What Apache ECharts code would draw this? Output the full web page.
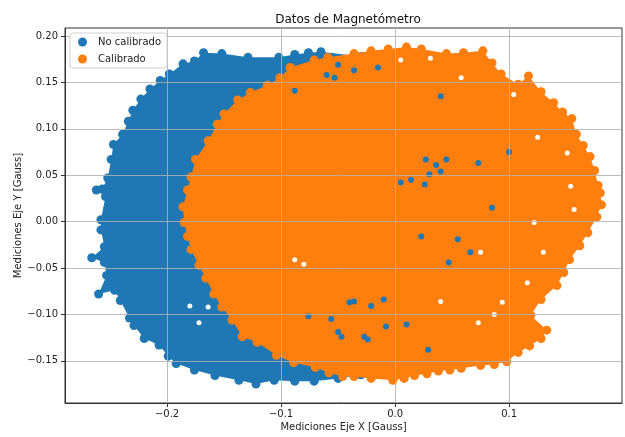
<!DOCTYPE html>
<html>
<head>
<meta charset="utf-8">
<script src="https://cdn.jsdelivr.net/npm/echarts@6/dist/echarts.min.js"></script>
<style>
  html, body { margin: 0; padding: 0; background: #fff; }
  #main { width: 625px; height: 437px; }
</style>
</head>
<body>
<div id="main"></div>
<script>
// outline of the "No calibrado" cloud (points on its edge, incl. outliers)
var blueEdge = [
    [-0.168, 0.182], [-0.152, 0.181], [-0.129, 0.177], [-0.102, 0.177], [-0.088, 0.180],
    [-0.076, 0.182], [-0.065, 0.183], [-0.030, 0.178], [0.005, 0.170], [0.031, 0.158],
    [0.049, 0.120], [0.053, 0.056], [0.049, -0.019], [0.031, -0.084], [0.005, -0.138],
    [-0.030, -0.165], [-0.050, -0.169], [-0.071, -0.172], [-0.088, -0.172], [-0.106, -0.171],
    [-0.122, -0.175], [-0.137, -0.171], [-0.158, -0.166], [-0.176, -0.160], [-0.192, -0.153],
    [-0.199, -0.145], [-0.207, -0.133], [-0.220, -0.126], [-0.229, -0.112], [-0.233, -0.104],
    [-0.241, -0.085], [-0.246, -0.074], [-0.260, -0.078], [-0.253, -0.058], [-0.255, -0.044],
    [-0.266, -0.039], [-0.255, -0.027], [-0.258, -0.009], [-0.258, 0.002], [-0.254, 0.027],
    [-0.262, 0.034], [-0.257, 0.035], [-0.252, 0.047], [-0.249, 0.067], [-0.247, 0.083],
    [-0.239, 0.094], [-0.234, 0.108], [-0.230, 0.120], [-0.223, 0.132], [-0.215, 0.143],
    [-0.206, 0.152], [-0.198, 0.159], [-0.186, 0.170], [-0.176, 0.173]
];

// outline of the "Calibrado" cloud
var orangeEdge = [
    [-0.186, 0.016], [-0.185, -0.001], [-0.182, -0.016], [-0.179, -0.030], [-0.172, -0.047],
    [-0.166, -0.061], [-0.159, -0.078], [-0.152, -0.092], [-0.143, -0.106], [-0.134, -0.124],
    [-0.121, -0.130], [-0.104, -0.144], [-0.089, -0.152], [-0.070, -0.157], [-0.058, -0.163],
    [-0.046, -0.167], [-0.036, -0.167], [-0.021, -0.169], [-0.002, -0.171], [0.008, -0.169],
    [0.017, -0.166], [0.028, -0.164], [0.038, -0.161], [0.048, -0.160], [0.058, -0.158],
    [0.075, -0.155], [0.087, -0.154], [0.098, -0.151], [0.108, -0.141], [0.118, -0.134],
    [0.128, -0.126], [0.133, -0.117], [0.119, -0.101], [0.128, -0.084], [0.142, -0.069],
    [0.148, -0.055], [0.153, -0.041], [0.162, -0.026], [0.169, -0.012], [0.177, 0.005],
    [0.181, 0.018], [0.180, 0.031], [0.178, 0.039], [0.175, 0.055], [0.171, 0.070],
    [0.165, 0.082], [0.159, 0.094], [0.155, 0.111], [0.147, 0.118], [0.139, 0.128],
    [0.128, 0.140], [0.117, 0.157], [0.108, 0.148], [0.093, 0.159], [0.085, 0.171],
    [0.077, 0.184], [0.060, 0.182], [0.045, 0.181], [0.023, 0.186], [0.010, 0.188],
    [-0.006, 0.186], [-0.021, 0.184], [-0.036, 0.181], [-0.059, 0.177], [-0.071, 0.174],
    [-0.092, 0.166], [-0.101, 0.155], [-0.112, 0.147], [-0.127, 0.139], [-0.138, 0.131],
    [-0.150, 0.116], [-0.156, 0.105], [-0.164, 0.087], [-0.175, 0.067], [-0.179, 0.048],
    [-0.182, 0.034]
];

// uncalibrated points that show through gaps in the calibrated cloud
var blueSpots = [
    [0.027, 0.067], [0.036, 0.061], [0.030, 0.051], [0.040, 0.054], [0.026, 0.040],
    [0.045, 0.067], [0.014, 0.045], [0.005, 0.042], [0.085, 0.015], [0.066, -0.033],
    [0.047, -0.044], [0.023, -0.016], [0.055, -0.019], [0.073, 0.063], [0.100, 0.075],
    [-0.036, -0.086], [-0.010, -0.084], [-0.056, -0.105], [-0.047, -0.124], [-0.024, -0.127],
    [-0.008, -0.113], [0.029, -0.138], [0.010, -0.111], [-0.076, -0.102], [-0.050, -0.119],
    [-0.027, -0.124], [-0.040, -0.087], [-0.021, -0.091], [-0.050, 0.169], [-0.036, 0.163],
    [-0.015, 0.166], [-0.060, 0.158], [0.040, 0.135], [-0.088, 0.141], [-0.053, 0.155]
];

// empty gaps inside the clouds
var gaps = [
    [0.125, 0.091], [0.154, 0.038], [0.157, 0.013], [0.122, -0.001], [0.075, -0.033],
    [0.116, -0.066], [0.151, 0.074], [0.130, -0.033], [0.005, 0.174], [0.031, 0.176],
    [0.058, 0.155], [0.104, 0.137], [0.040, -0.086], [0.073, -0.109], [0.087, -0.100],
    [0.094, -0.087], [-0.180, -0.091], [-0.172, -0.109], [-0.164, -0.092], [-0.088, -0.041],
    [-0.080, -0.046]
];

var xTicks = [-0.2, -0.1, 0.0, 0.1, 0.2];
var xTickLabels = ['\u22120.2', '\u22120.1', '0.0', '0.1', '0.2'];
var yTicks = [-0.15, -0.10, -0.05, 0.00, 0.05, 0.10, 0.15, 0.20];
var yTickLabels = ['\u22120.15', '\u22120.10', '\u22120.05', '0.00', '0.05', '0.10', '0.15', '0.20'];

var BLUE = '#1f77b4';
var ORANGE = '#ff7f0e';
var FONT = 'DejaVu Sans';

function labelFor(ticks, labels) {
    return function (value) {
        for (var i = 0; i < ticks.length; i++) {
            if (Math.abs(ticks[i] - value) < 1e-9) return labels[i];
        }
        return '';
    };
}

// filled body of a cloud, drawn through the axis scales
function cloudBody(points, color, z) {
    return {
        type: 'custom',
        coordinateSystem: 'cartesian2d',
        silent: true,
        z: z,
        data: [[0, 0]],
        renderItem: function (params, api) {
            var pts = points.map(function (p) { return api.coord(p); });
            return {
                type: 'polygon',
                shape: { points: pts },
                style: { fill: color }
            };
        }
    };
}

function axisCommon() {
    return {
        axisLine: { show: true, onZero: false, lineStyle: { color: '#333', width: 1 } },
        axisTick: { show: true, inside: false, length: 4, lineStyle: { color: '#333' } },
        splitLine: { show: true, lineStyle: { color: 'rgba(176,176,176,0.85)', width: 1 } },
        nameTextStyle: { color: '#222', fontFamily: FONT, fontSize: 10 },
        nameMoveOverlap: false
    };
}

var chart = echarts.init(document.getElementById('main'), null, { renderer: 'canvas' });

var xAxis = axisCommon();
xAxis.type = 'value';
xAxis.min = -0.2895;
xAxis.max = 0.199;
xAxis.z = 10;
xAxis.name = 'Mediciones Eje X [Gauss]';
xAxis.nameLocation = 'middle';
xAxis.nameGap = 19;
xAxis.axisTick.customValues = xTicks;
xAxis.axisLabel = {
    customValues: xTicks,
    formatter: labelFor(xTicks, xTickLabels),
    color: '#222', fontFamily: FONT, fontSize: 10, margin: 6, showMaxLabel: true
};

var yAxis = axisCommon();
yAxis.type = 'value';
yAxis.min = -0.1955;
yAxis.max = 0.2086;
yAxis.z = 10;
yAxis.name = 'Mediciones Eje Y [Gauss]';
yAxis.nameLocation = 'middle';
yAxis.nameGap = 42;
yAxis.axisTick.customValues = yTicks;
yAxis.axisLabel = {
    customValues: yTicks,
    formatter: labelFor(yTicks, yTickLabels),
    color: '#222', fontFamily: FONT, fontSize: 10, margin: 7
};

var option = {
    animation: false,
    backgroundColor: '#fff',
    title: {
        text: 'Datos de Magnet\u00f3metro',
        left: 343, top: 9, textAlign: 'center',
        textStyle: { fontFamily: FONT, fontSize: 12, fontWeight: 'normal', color: '#111' }
    },
    grid: {
        left: 65, right: 3, top: 28, bottom: 33,
        show: true, borderColor: '#333', borderWidth: 1, backgroundColor: 'transparent'
    },
    legend: {
        data: ['No calibrado', 'Calibrado'],
        orient: 'vertical',
        left: 70, top: 33,
        icon: 'circle',
        itemWidth: 9, itemHeight: 9, itemGap: 7,
        padding: [4, 6, 4, 8],
        backgroundColor: 'rgba(255,255,255,0.85)',
        borderColor: '#d0d0d0', borderWidth: 1, borderRadius: 3,
        textStyle: { fontFamily: FONT, fontSize: 10, color: '#222', padding: [0, 0, 0, 6] },
        z: 20
    },
    xAxis: xAxis,
    yAxis: yAxis,
    series: [
        cloudBody(blueEdge, BLUE, 1),
        {
            name: 'No calibrado', type: 'scatter', z: 1,
            symbolSize: 9, itemStyle: { color: BLUE, opacity: 1 },
            data: blueEdge, silent: true
        },
        cloudBody(orangeEdge, ORANGE, 2),
        {
            name: 'Calibrado', type: 'scatter', z: 2,
            symbolSize: 9, itemStyle: { color: ORANGE, opacity: 1 },
            data: orangeEdge, silent: true
        },
        {
            type: 'scatter', z: 3, symbolSize: 6,
            itemStyle: { color: BLUE, opacity: 1 },
            data: blueSpots, silent: true
        },
        {
            type: 'scatter', z: 4, symbolSize: 5,
            itemStyle: { color: '#fff', opacity: 1 },
            data: gaps, silent: true
        }
    ]
};

chart.setOption(option);
window.addEventListener('resize', function () {
    chart.resize();
});
</script>
</body>
</html>
